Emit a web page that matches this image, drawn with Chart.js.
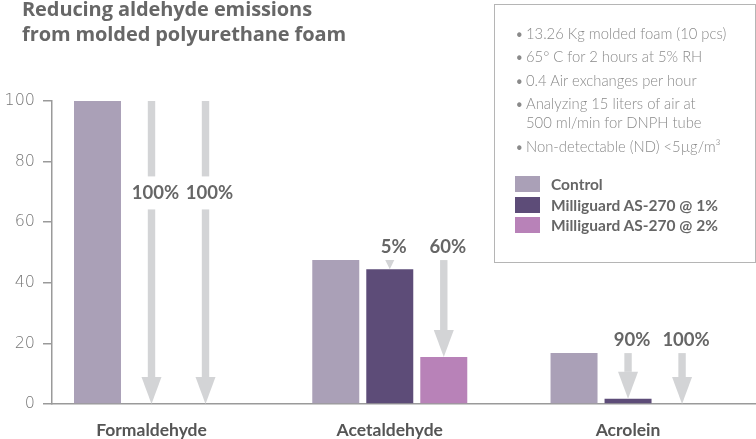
<!DOCTYPE html>
<html>
<head>
<meta charset="utf-8">
<script src="https://cdn.jsdelivr.net/npm/chart.js@4/dist/chart.umd.min.js"></script>
<style>
  body { margin: 0; background: #fff; }
  #wrap { position: relative; width: 756px; height: 439px; overflow: hidden; font-family: Lato, sans-serif; }
  #chart { position: absolute; left: 0; top: 0; }
  #title { position: absolute; left: 22px; top: -3px; font-family: "Open Sans", sans-serif; font-size: 20px; font-weight: bold; color: #676767; line-height: 24.5px; letter-spacing: -0.1px; }
  #note { position: absolute; left: 494px; top: 4px; width: 262px; height: 259px; border: 1.5px solid #b5b5b5; box-sizing: border-box; }
  #note ul { position: absolute; left: 0; top: 19px; margin: 0; padding: 0; list-style: none; }
  #note li { position: relative; padding-left: 31px; font-size: 14.8px; font-weight: 300; color: #8a8a8a; line-height: 19.5px; margin-bottom: 3.8px; white-space: pre-line; }
  #note li:before { content: "\2022"; position: absolute; left: 20px; }
  #legend { position: absolute; left: 20px; top: 169px; }
  .row { height: 20.5px; display: flex; align-items: center; font-size: 15.5px; font-weight: bold; color: #666; }
  .sw { width: 25px; height: 16px; margin-right: 11px; }
</style>
</head>
<body>
<div id="wrap">
  <canvas id="chart" width="756" height="439"></canvas>
  <div id="title">Reducing aldehyde emissions<br>from molded polyurethane foam</div>
  <div id="note"><ul id="notes"></ul><div id="legend"></div></div>
</div>
<script>
var categories = ['Formaldehyde', 'Acetaldehyde', 'Acrolein'];
var seriesNames = ['Control', 'Milliguard AS-270 @ 1%', 'Milliguard AS-270 @ 2%'];
var seriesColors = ['#aaa0b7', '#5d4c78', '#b882b8'];
var controlValues = [100, 47.5, 16.8];
var onePctValues = [0, 44.5, 1.7];
var twoPctValues = [0, 15.5, 0];
var onePctReduction = ['100%', '5%', '90%'];
var twoPctReduction = ['100%', '60%', '100%'];
var yTicks = [0, 20, 40, 60, 80, 100];
var notes = [
  '13.26 Kg molded foam (10 pcs)',
  '65\u00b0 C for 2 hours at 5% RH',
  '0.4 Air exchanges per hour',
  'Analyzing 15 liters of air at\n500 ml/min for DNPH tube',
  'Non-detectable (ND) <5\u00b5g/m\u00b3'
];

var allValues = [controlValues, onePctValues, twoPctValues];
var reductions = [null, onePctReduction, twoPctReduction];

// notes box + legend as html
var ul = document.getElementById('notes');
notes.forEach(function (t) {
  var li = document.createElement('li');
  li.textContent = t;
  ul.appendChild(li);
});
var leg = document.getElementById('legend');
seriesNames.forEach(function (n, i) {
  var row = document.createElement('div');
  row.className = 'row';
  row.innerHTML = '<span class="sw" style="background:' + seriesColors[i] + '"></span>';
  row.appendChild(document.createTextNode(n));
  leg.appendChild(row);
});

// reduction arrows drawn over bars
var arrowPlugin = {
  id: 'arrows',
  afterDatasetsDraw: function (chart) {
    var ctx = chart.ctx;
    var y = chart.scales.y;
    ctx.save();
    for (var d = 1; d < allValues.length; d++) {
      var meta = chart.getDatasetMeta(d);
      for (var i = 0; i < categories.length; i++) {
        var x = meta.data[i].x;
        var top = y.getPixelForValue(controlValues[i]);
        var bot = y.getPixelForValue(allValues[d][i]);
        var len = bot - top;
        var headH = Math.min(27, len);
        var headW = headH < 27 ? headH : 20;
        ctx.fillStyle = '#d3d4d6';
        var inside = top < chart.chartArea.top + 20;
        var labelY = inside ? y.getPixelForValue(69.5) : top - 13;
        if (len - headH > 0) {
          if (inside) {
            ctx.fillRect(x - 3.7, top, 7.4, labelY - 17 - top);
            ctx.fillRect(x - 3.7, labelY + 16, 7.4, bot - headH - labelY - 16);
          } else {
            ctx.fillRect(x - 3.7, top, 7.4, len - headH);
          }
        }
        ctx.beginPath();
        ctx.moveTo(x - headW / 2, bot - headH);
        ctx.lineTo(x + headW / 2, bot - headH);
        ctx.lineTo(x, bot);
        ctx.closePath();
        ctx.fill();
        ctx.fillStyle = '#666';
        ctx.font = 'bold 18.5px Lato';
        ctx.textAlign = 'center';
        ctx.textBaseline = 'middle';
        ctx.fillText(reductions[d][i], x + 4, labelY);
      }
    }
    ctx.restore();
  }
};

new Chart(document.getElementById('chart'), {
  type: 'bar',
  data: {
    datasets: seriesNames.map(function (n, d) {
      return {
        label: n,
        data: allValues[d].map(function (v, i) { return { x: i, y: v }; }),
        backgroundColor: seriesColors[d],
        categoryPercentage: 0.68,
        barPercentage: 0.87
      };
    })
  },
  options: {
    responsive: false,
    animation: false,
    layout: { padding: { top: 101, left: 0, right: 0, bottom: 0 } },
    plugins: { legend: { display: false }, tooltip: { enabled: false } },
    scales: {
      x: {
        type: 'linear',
        offset: false,
        min: -0.4176,
        max: 2.537,
        afterBuildTicks: function (s) { s.ticks = categories.map(function (c, i) { return { value: i }; }); },
        afterFit: function (s) { s.height = 35; },
        grid: { display: false, drawTicks: false },
        border: { color: '#9a9a9a', width: 1.5 },
        ticks: {
          autoSkip: false,
          maxRotation: 0,
          padding: 15.5,
          color: '#555',
          font: { family: 'Lato', size: 17.5, weight: 'bold' },
          callback: function (v) { return categories[v]; }
        }
      },
      y: {
        min: 0,
        max: 100,
        afterBuildTicks: function (s) { s.ticks = yTicks.map(function (v) { return { value: v }; }); },
        afterFit: function (s) { s.width = 52; },
        grid: { drawOnChartArea: false, tickLength: 9, color: '#9a9a9a', lineWidth: 1.5 },
        border: { color: '#9a9a9a', width: 1.5 },
        ticks: {
          padding: 8,
          color: '#777',
          font: { family: 'DejaVu Sans', size: 16, weight: 200 }
        }
      }
    }
  },
  plugins: [arrowPlugin]
});
</script>
</body>
</html>
